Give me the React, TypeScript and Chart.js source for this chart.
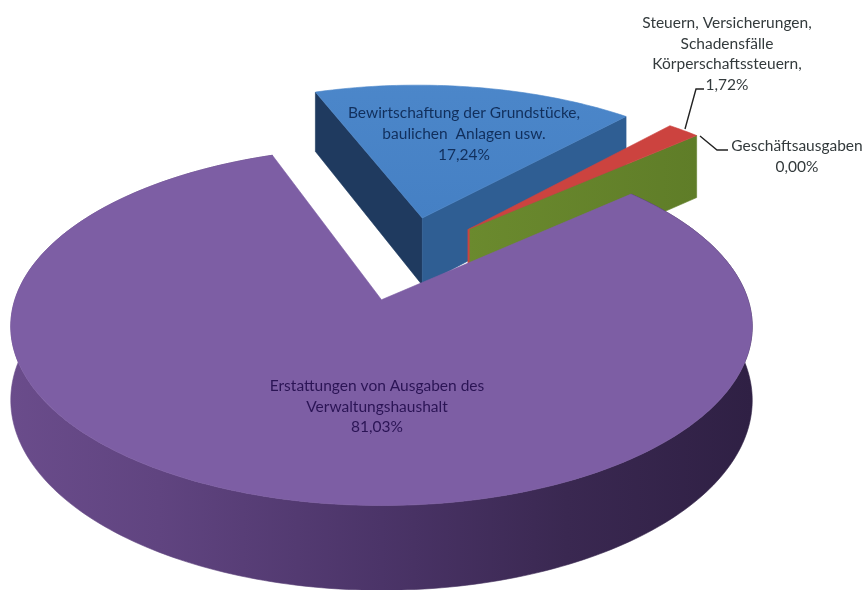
import React, { useEffect, useRef } from "react";
import { Chart } from "chart.js/auto";

const categories = [
  "Bewirtschaftung der Grundstücke, baulichen  Anlagen usw.",
  "Steuern, Versicherungen, Schadensfälle Körperschaftssteuern,",
  "Geschäftsausgaben",
  "Erstattungen von Ausgaben des Verwaltungshaushalt",
];
const values = [17.24, 1.72, 0.0, 81.03];
const topColors = ["#4580c4", "#cc433f", "#6b8a2e", "#7d5ea4"];
const labelLines = [
  ["Bewirtschaftung der Grundstücke,", "baulichen  Anlagen usw.", "17,24%"],
  ["Steuern, Versicherungen,", "Schadensfälle", "Körperschaftssteuern,", "1,72%"],
  ["Geschäftsausgaben", "0,00%"],
  ["Erstattungen von Ausgaben des", "Verwaltungshaushalt", "81,03%"],
];

// projection of the exploded 3D pie
const CX = 380, CY = 298, A = 369, K = 176, P = 0.15, DEPTH = 72;
const explode = [
  { x: 0.123, y: 0.4875, r: 0.99 },
  { x: 0.255, y: 0.415, r: 0.99 },
  { x: 0.255, y: 0.415, r: 0.99 },
  { x: 0.004, y: -0.01, r: 0.992 },
];
const labelLayout = [
  { x: 464, y: 113, gap: 21, color: "#112f5c" },
  { x: 727, y: 23, gap: 20.5, color: "#333a3c" },
  { x: 797, y: 146, gap: 20.5, color: "#333a3c" },
  { x: 377, y: 386, gap: 20.5, color: "#2b1455" },
];

type Pt = [number, number];
const project = (X: number, Y: number, z: number): Pt => {
  const s = 1 / (1 + P * Y);
  return [CX + A * X * s, CY - K * Y * s + DEPTH * s * z];
};

const poly = (ctx: CanvasRenderingContext2D, pts: Pt[], fill: any) => {
  ctx.beginPath();
  pts.forEach((p, i) => (i ? ctx.lineTo(p[0], p[1]) : ctx.moveTo(p[0], p[1])));
  ctx.closePath();
  ctx.fillStyle = fill;
  ctx.strokeStyle = fill;
  ctx.lineWidth = 0.6;
  ctx.fill();
  ctx.stroke();
};

const arcPoints = (i: number, a0: number, a1: number, z: number): Pt[] => {
  const e = explode[i];
  const n = Math.max(2, Math.ceil(Math.abs(a1 - a0) / 0.02));
  const out: Pt[] = [];
  for (let k = 0; k <= n; k++) {
    const a = a0 + ((a1 - a0) * k) / n;
    out.push(project(e.x + e.r * Math.cos(a), e.y - e.r * Math.sin(a), z));
  }
  return out;
};

const hGrad = (ctx: CanvasRenderingContext2D, x0: number, x1: number, stops: [number, string][]) => {
  const g = ctx.createLinearGradient(x0, 0, x1, 0);
  stops.forEach(([o, c]) => g.addColorStop(o, c));
  return g;
};

const pie3d = {
  id: "pie3d",
  beforeDatasetsDraw(chart: any) {
    const ctx: CanvasRenderingContext2D = chart.ctx;
    const arcs = chart.getDatasetMeta(0).data.map((el: any) =>
      el.getProps(["startAngle", "endAngle"], true)
    );
    const bg = chart.data.datasets[0].backgroundColor as string[];
    const apex = (i: number, z: number) => project(explode[i].x, explode[i].y, z);
    const cut = (i: number, a: number, fill: any) => {
      const e = arcPoints(i, a, a, 0)[0];
      const b = arcPoints(i, a, a, 1)[0];
      poly(ctx, [apex(i, 0), e, b, apex(i, 1)], fill);
    };
    const top = (i: number, fill: any) =>
      poly(ctx, [apex(i, 0), ...arcPoints(i, arcs[i].startAngle, arcs[i].endAngle, 0)], fill);

    // blue slice
    cut(0, arcs[0].startAngle, "#1f3a5f");
    cut(0, arcs[0].endAngle, "#2f5e93");
    const blue = ctx.createLinearGradient(0, 75, 0, 220);
    blue.addColorStop(0, "#4c87ca");
    blue.addColorStop(1, bg[0]);
    top(0, blue);

    // red sliver and the olive face of the zero-width slice
    cut(2, arcs[2].endAngle, hGrad(ctx, 467, 698, [[0, "#6b8a2e"], [1, "#5f7d28"]]));
    top(1, bg[1]);
    const a0 = apex(1, 0);
    const a1 = apex(1, 1);
    ctx.strokeStyle = bg[1];
    ctx.lineWidth = 2;
    ctx.beginPath();
    ctx.moveTo(a0[0], a0[1]);
    ctx.lineTo(a1[0], a1[1]);
    ctx.stroke();

    // purple slice
    const wall = [
      ...arcPoints(3, arcs[3].startAngle, arcs[3].endAngle, 0),
      ...arcPoints(3, arcs[3].endAngle, arcs[3].startAngle, 1),
    ];
    poly(ctx, wall, hGrad(ctx, 11, 752, [
      [0, "#6a4c8b"],
      [0.2, "#604480"],
      [0.5, "#4b3468"],
      [0.75, "#3a2851"],
      [1, "#2f2044"],
    ]));
    top(3, bg[3]);
    return false;
  },
  afterDraw(chart: any) {
    const ctx: CanvasRenderingContext2D = chart.ctx;
    ctx.save();
    ctx.strokeStyle = "#222222";
    ctx.lineWidth = 1.4;
    ctx.beginPath();
    ctx.moveTo(685, 129);
    ctx.lineTo(696, 89);
    ctx.lineTo(704, 89);
    ctx.moveTo(700, 136);
    ctx.lineTo(717, 150);
    ctx.lineTo(728, 150);
    ctx.stroke();
    ctx.font = "15.5px Lato";
    ctx.textAlign = "center";
    ctx.textBaseline = "middle";
    labelLines.forEach((lines, i) => {
      const l = labelLayout[i];
      ctx.fillStyle = l.color;
      lines.forEach((t, j) => ctx.fillText(t, l.x, l.y + j * l.gap));
    });
    ctx.restore();
  },
};

export default function App() {
  const ref = useRef<HTMLCanvasElement>(null);
  useEffect(() => {
    const chart = new Chart(ref.current!, {
      type: "pie",
      data: {
        labels: categories,
        datasets: [{ data: values, backgroundColor: topColors, borderWidth: 0 }],
      },
      options: {
        animation: false,
        responsive: false,
        rotation: -19.8,
        plugins: { legend: { display: false }, tooltip: { enabled: false } },
      },
      plugins: [pie3d],
    });
    return () => chart.destroy();
  }, []);
  return (
    <div style={{ position: "absolute", left: 0, top: 0, width: 864, height: 590, background: "#fff" }}>
      <canvas ref={ref} width={864} height={590} style={{ display: "block" }} />
    </div>
  );
}
